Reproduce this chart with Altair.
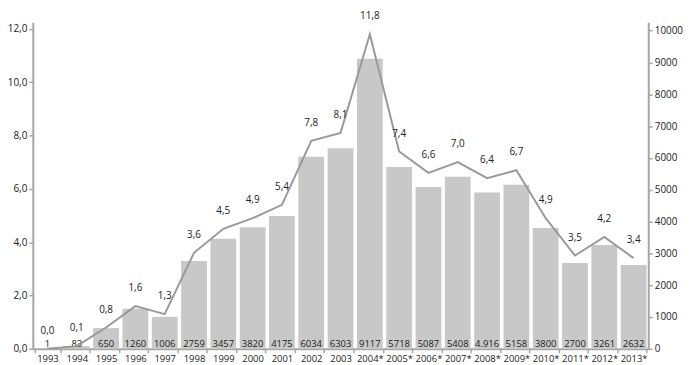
import altair as alt
import pandas as pd

years = ["1993", "1994", "1995", "1996", "1997", "1998", "1999", "2000", "2001",
         "2002", "2003", "2004*", "2005*", "2006*", "2007*", "2008*", "2009*",
         "2010*", "2011*", "2012*", "2013*"]
bar_values = [1, 83, 650, 1260, 1006, 2759, 3457, 3820, 4175, 6034, 6303, 9117,
              5718, 5087, 5408, 4916, 5158, 3800, 2700, 3261, 2632]
bar_labels = ["1", "83", "650", "1260", "1006", "2759", "3457", "3820", "4175",
              "6034", "6303", "9117", "5718", "5087", "5408", "4.916", "5158",
              "3800", "2700", "3261", "2632"]
line_values = [0.0, 0.1, 0.8, 1.6, 1.3, 3.6, 4.5, 4.9, 5.4, 7.8, 8.1, 11.8, 7.4,
               6.6, 7.0, 6.4, 6.7, 4.9, 3.5, 4.2, 3.4]
left_ticks = [0, 2, 4, 6, 8, 10, 12]
right_ticks = [0, 1000, 2000, 3000, 4000, 5000, 6000, 7000, 8000, 9000, 10000]

df = pd.DataFrame({"year": years, "count": bar_values,
                   "count_label": bar_labels, "pct": line_values})

FONT = "Open Sans"
AX = "#a6a6a6"
TXT = "#222222"
FS = 10
FS_SMALL = 9.5

x = alt.X("year:N", sort=years,
          scale=alt.Scale(paddingInner=0.12, paddingOuter=0.06),
          axis=alt.Axis(title=None, labelAngle=0, tickBand="extent",
                        domainColor=AX, domainWidth=2, tickColor=AX,
                        tickWidth=1.5, tickSize=4, labelPadding=1,
                        labelFontSize=FS_SMALL, labelColor=TXT, labelFont=FONT,
                        labelOverlap=False))

base = alt.Chart(df)

bar_scale = alt.Scale(domain=[0, 10265], nice=False, zero=True)
bar_axis = alt.Axis(orient="right", values=right_ticks, format="d",
                    title=None, grid=False, domainColor=AX,
                    domainWidth=2, tickColor=AX, tickWidth=1.5,
                    tickSize=4, labelPadding=2, labelFontSize=FS,
                    labelColor=TXT, labelFont=FONT, labelOverlap=False)

bar = base.mark_bar(color="#c8c8c8").encode(
    x=x, y=alt.Y("count:Q", scale=bar_scale, axis=bar_axis))
bar_text = base.mark_text(baseline="middle", dy=-5, fontSize=FS_SMALL,
                          color=TXT, font=FONT).encode(
    x=x, y=alt.Y(datum=0, scale=bar_scale, axis=bar_axis),
    text="count_label:N")
bars_layer = alt.layer(bar, bar_text)

line_scale = alt.Scale(domain=[0, 12.25], nice=False, zero=True)
line_axis = alt.Axis(orient="left", values=left_ticks,
                     labelExpr="replace(format(datum.value, '.1f'), '.', ',')",
                     title=None, grid=False, domainColor=AX,
                     domainWidth=2, tickColor=AX, tickWidth=1.5,
                     tickSize=4, labelPadding=2, labelFontSize=FS,
                     labelColor=TXT, labelFont=FONT, labelOverlap=False)
y_line = alt.Y("pct:Q", scale=line_scale, axis=line_axis)

line = base.mark_line(color="#999999", strokeWidth=2).encode(x=x, y=y_line)
line_text = base.transform_calculate(
    lbl="replace(format(datum.pct, '.1f'), '.', ',')"
).mark_text(baseline="middle", dy=-18, fontSize=FS, color=TXT,
            font=FONT).encode(x=x, y=y_line, text="lbl:N")
line_layer = alt.layer(line, line_text)

chart = alt.layer(bars_layer, line_layer).resolve_scale(
    y="independent"
).properties(
    width=620, height=329,
    autosize=alt.AutoSizeParams(type="none"),
    padding={"left": 25, "top": 13, "right": 36, "bottom": 15},
    background="white",
).configure_view(stroke=None)

chart.save("out.html", embed_options={"renderer": "svg", "actions": False})
